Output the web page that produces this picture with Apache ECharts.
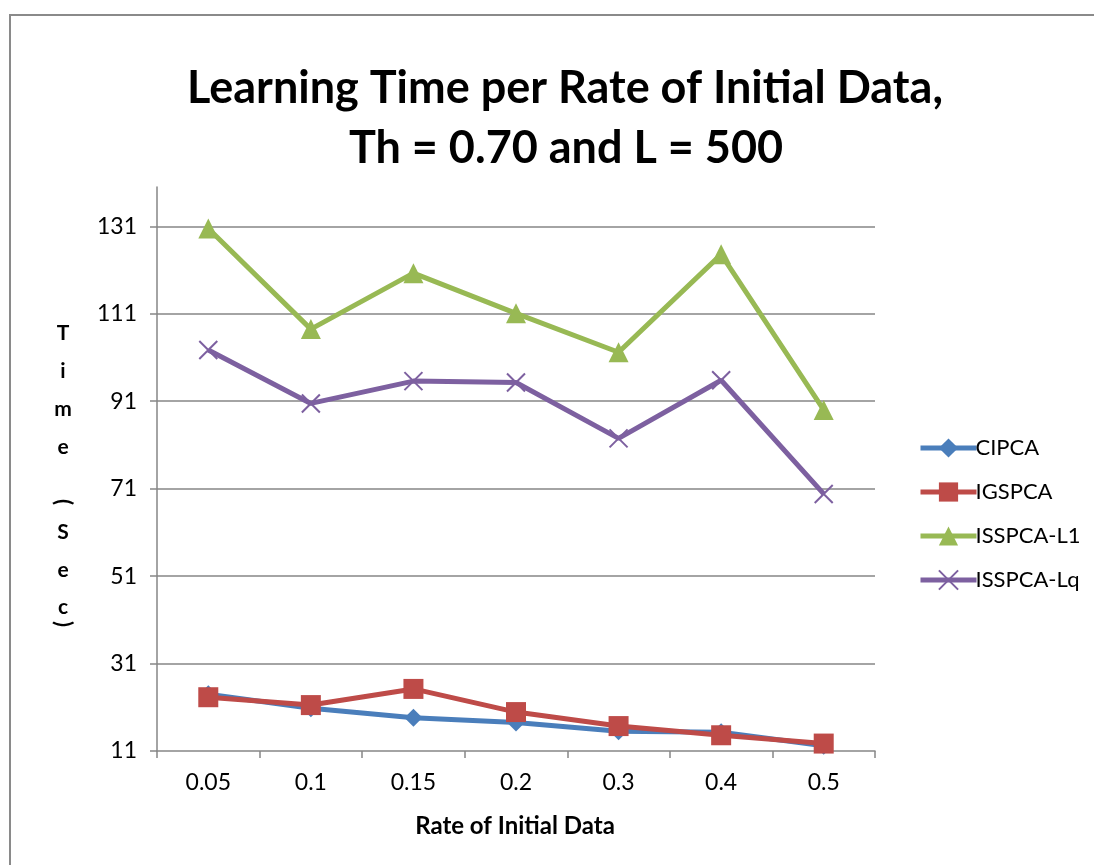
<!DOCTYPE html>
<html>
<head>
<meta charset="utf-8">
<script src="https://cdn.jsdelivr.net/npm/echarts@6/dist/echarts.min.js"></script>
<style>html,body{margin:0;padding:0;background:#fff;}#c{width:1094px;height:865px;}</style>
</head>
<body>
<div id="c"></div>
<script>
const categories = ['0.05', '0.1', '0.15', '0.2', '0.3', '0.4', '0.5'];
const seriesNames = ['CIPCA', 'IGSPCA', 'ISSPCA-L1', 'ISSPCA-Lq'];
const cipca = [24, 20.8, 18.6, 17.5, 15.5, 15.3, 12.2];
const igspca = [23.3, 21.5, 25.2, 19.9, 16.7, 14.6, 12.7];
const isspcaL1 = [130.5, 107.5, 120.3, 111.1, 102.2, 124.6, 89];
const isspcaLq = [102.7, 90.5, 95.6, 95.3, 82.5, 95.8, 69.8];
const yMin = 11, yMax = 140, yStep = 20;
const titleLines = ['Learning Time per Rate of Initial Data,', 'Th = 0.70 and L = 500'];
const xAxisTitle = 'Rate of Initial Data';
const yAxisChars = ['T', 'i', 'm', 'e', '(', 'S', 'e', 'c', ')'];

const colors = ['#4A7EBB', '#BE4B48', '#98B954', '#7D60A0'];
const crossPath = 'path://M0,0L10,10M10,0L0,10';
const symbols = ['diamond', 'rect', 'triangle', crossPath];
const symbolSizes = [18, 20, 20, 18];
const dataSets = [cipca, igspca, isspcaL1, isspcaLq];

const chart = echarts.init(document.getElementById('c'), null, {renderer: 'canvas'});

const yCharPos = [333, 371, 409, 447, 502, 532, 570, 607, 624];
const yChars = yAxisChars.map((ch, i) => {
  const isParen = ch === '(' || ch === ')';
  return {
    type: 'text',
    x: 63, y: yCharPos[i],
    rotation: isParen ? -Math.PI / 2 : 0,
    style: {
      text: ch, fill: '#000',
      font: isParen ? 'bold 22px Lato' : 'bold 21px Lato',
      textAlign: 'center', textVerticalAlign: 'middle'
    }
  };
});

chart.setOption({
  backgroundColor: '#fff',
  animation: false,
  color: colors,
  grid: {left: 157, right: 219, top: 187, bottom: 114, containLabel: false},
  xAxis: {
    type: 'category',
    data: categories,
    boundaryGap: true,
    axisLine: {lineStyle: {color: '#868686', width: 1.5}},
    axisTick: {show: true, length: 7, lineStyle: {color: '#868686', width: 1.5}},
    axisLabel: {color: '#000', fontSize: 23, fontFamily: 'Lato', margin: 20},
    splitLine: {show: false}
  },
  yAxis: {
    type: 'value',
    min: yMin, max: yMax, interval: yStep,
    axisLine: {show: true, lineStyle: {color: '#868686', width: 1.5}},
    axisTick: {show: true, length: 7, lineStyle: {color: '#868686', width: 1.5}},
    axisLabel: {color: '#000', fontSize: 23, fontFamily: 'Lato', margin: 20, showMaxLabel: false,
      formatter: v => (v === yMax ? '' : String(v))},
    splitLine: {show: true, showMinLine: false, showMaxLine: false, lineStyle: {color: '#868686', width: 1.5}}
  },
  legend: {
    orient: 'vertical',
    left: 913, top: 432,
    itemWidth: 56, itemHeight: 24,
    itemGap: 22,
    lineStyle: {width: 5},
    textStyle: {color: '#000', fontSize: 22, fontFamily: 'Lato', padding: [0, 0, 0, -6]},
    data: seriesNames
  },
  series: seriesNames.map((name, i) => ({
    name: name,
    type: 'line',
    data: dataSets[i],
    symbol: symbols[i],
    symbolSize: symbolSizes[i],
    showAllSymbol: true,
    lineStyle: {width: 5, color: colors[i]},
    itemStyle: i === 3
      ? {color: colors[i], borderColor: colors[i], borderWidth: 2}
      : {color: colors[i], borderWidth: 0},
    z: 2 + i
  })),
  graphic: [
    {type: 'rect', shape: {x: 10, y: 15, width: 1200, height: 1000}, style: {fill: 'none', stroke: '#8a8a8a', lineWidth: 2}, z: -1},
    {type: 'text', x: 565, y: 88, style: {text: titleLines[0], fill: '#000', font: 'bold 45px Lato', textAlign: 'center', textVerticalAlign: 'middle'}},
    {type: 'text', x: 566, y: 148, style: {text: titleLines[1], fill: '#000', font: 'bold 45px Lato', textAlign: 'center', textVerticalAlign: 'middle'}},
    {type: 'text', x: 515, y: 826, style: {text: xAxisTitle, fill: '#000', font: 'bold 24px Lato', textAlign: 'center', textVerticalAlign: 'middle'}}
  ].concat(yChars)
});
</script>
</body>
</html>
